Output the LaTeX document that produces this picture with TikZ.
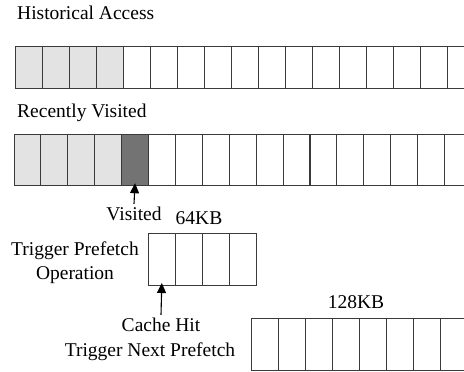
\documentclass[tikz,border=0pt]{standalone}
\usepackage{fontspec}
\setmainfont{Liberation Serif}
\usetikzlibrary{positioning,arrows.meta}
\definecolor{lightcell}{HTML}{E3E3E3}
\definecolor{darkcell}{HTML}{737373}
\definecolor{cellline}{HTML}{3A3A3A}
\tikzset{
  cell/.style={draw=cellline, line width=0.9pt, minimum width=27pt, inner sep=0pt, outer sep=0pt},
  lbl/.style={font=\fontsize{19.5}{24}\selectfont, inner sep=0pt},
  uparrow/.style={-{Triangle[length=10pt,width=9pt]}, line width=1.1pt}
}

\begin{document}
\begin{tikzpicture}[x=1pt,y=-1pt]
\useasboundingbox (0,0) rectangle (464,372);
\clip (0,0) rectangle (464,372);
% historical access row
\node[lbl, anchor=west] (hist) at (17,13) {Historical Access};
\foreach \i in {1,...,4}
  \node[cell, fill=lightcell, minimum height=42pt] (h\i) at ({15.5+27*(\i-0.5)},67) {};
\foreach \i in {5,...,17}
  \node[cell, minimum height=42pt] (h\i) at ({15.5+27*(\i-0.5)},67) {};
% recently visited row
\node[lbl, anchor=west] (recent) at (17,113) {Recently Visited};
\foreach \i in {1,...,4}
  \node[cell, fill=lightcell, minimum height=51pt] (r\i) at ({14+26.9*(\i-0.5)},159.7) {};
\node[cell, fill=darkcell, minimum height=51pt] (r5) at ({14+26.9*4.5},159.7) {};
\foreach \i in {6,...,17}
  \node[cell, minimum height=51pt] (r\i) at ({14+26.9*(\i-0.5)},159.7) {};
\node[lbl] (visited) at (134,214) {Visited};
\draw[uparrow] ([yshift=3pt]visited.north) -- ([yshift=2pt]r5.south);
% 64KB prefetch
\node[lbl] (small) at (199,218) {64KB};
\foreach \i in {1,...,4}
  \node[cell, minimum height=52pt] (s\i) at ({148.3+27*(\i-0.5)},259) {};
\node[lbl, align=center] (trigger) at (75,263) {Trigger Prefetch\\Operation};
\node[lbl] (hit) at (161,325) {Cache Hit};
\draw[uparrow] ([yshift=3pt]hit.north) -- ([yshift=2pt]s1.south);
\node[lbl] (next) at (150,352) {Trigger Next Prefetch};
% 128KB prefetch
\node[lbl] (large) at (356,302) {128KB};
\foreach \i in {1,...,8}
  \node[cell, minimum height=52pt] (l\i) at ({251.7+27*(\i-0.5)},344) {};
\end{tikzpicture}
\end{document}
